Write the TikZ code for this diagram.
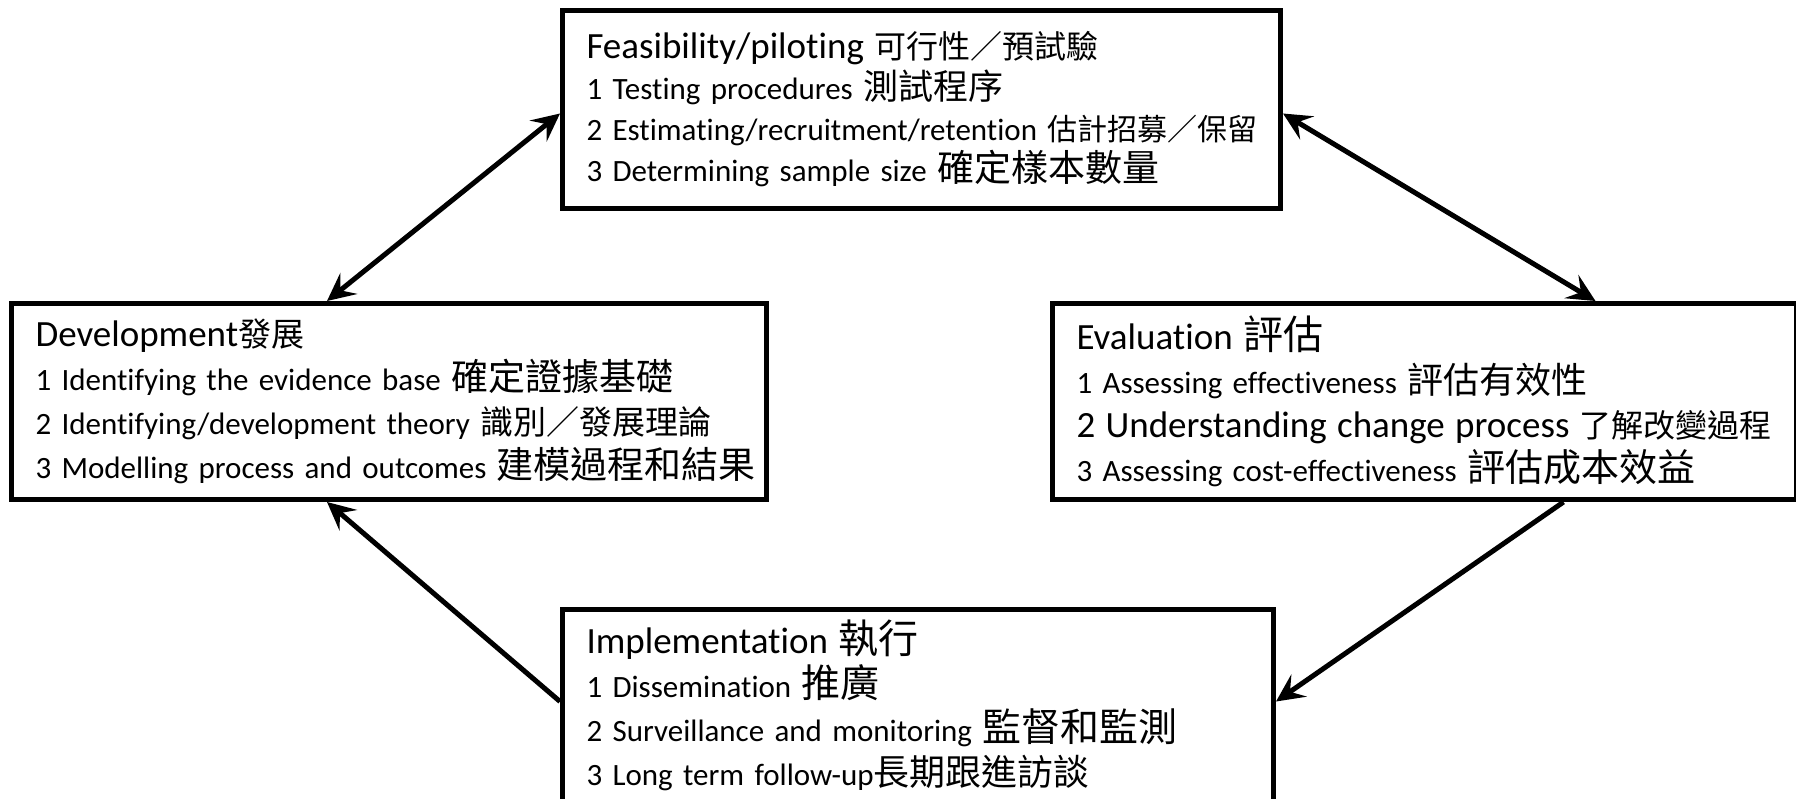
\documentclass[tikz,border=0pt]{standalone}
\usepackage{fontspec}
\setmainfont{Carlito}[Ligatures=NoCommon]
\newfontfamily\zhfont{Noto Sans CJK TC}
\usetikzlibrary{arrows.meta}
% Chinese text at a given size, stage headings, unbroken lines
\newcommand{\zh}[2][34]{{\zhfont\fontsize{#1}{44}\selectfont #2}}
\newcommand{\stagehead}[1]{\mbox{\fontsize{37}{44}\selectfont #1}}
\newcommand{\stageline}[1]{\mbox{#1}}
\hbadness=10000 \hfuzz=200pt
\tikzset{
  stage/.style={draw, line width=5pt, anchor=north west, align=left,
    inner xsep=24pt, inner ysep=0pt, font=\fontsize{31}{44}\selectfont},
  flow/.style={line width=5pt, -{Stealth[length=28pt,width=27pt,inset=11pt]}},
  twoway/.style={line width=5pt,
    {Stealth[length=28pt,width=27pt,inset=11pt]}-{Stealth[length=28pt,width=27pt,inset=11pt]}}
}

\begin{document}
\begin{tikzpicture}[x=1pt,y=-1pt]
  \useasboundingbox (0,0) rectangle (1796,798);
  % The four stages
  \node[stage, text width=670pt, minimum height=198pt,
        font=\fontsize{31}{41}\selectfont] (feas) at (560,8)
    {\stagehead{Feasibility/piloting \zh[32]{可行性／預試驗}}\\
     \stageline{1 Testing procedures \zh[35]{測試程序}}\\
     \stageline{2 Estimating/recruitment/retention \zh[30]{估計招募／保留}}\\
     \stageline{3 Determining sample size \zh[37]{確定樣本數量}}};
  \node[stage, text width=707pt, minimum height=196pt] (dev) at (9,301)
    {\stagehead{Development\zh[33]{發展}}\\
     \stageline{1 Identifying the evidence base \zh[37]{確定證據基礎}}\\
     \stageline{2 Identifying/development theory \zh[33]{識別／發展理論}}\\
     \stageline{3 Modelling process and outcomes \zh[37]{建模過程和結果}}};
  \node[stage, text width=696pt, minimum height=196pt] (eval) at (1050,301)
    {\stagehead{Evaluation \zh[40]{評估}}\\
     \stageline{1 Assessing effectiveness \zh[36]{評估有效性}}\\
     \stageline{\fontsize{37}{44}\selectfont 2 Understanding change process \zh[32]{了解改變過程}}\\
     \stageline{3 Assessing cost-effectiveness \zh[38]{評估成本效益}}};
  \node[stage, text width=663pt, minimum height=192pt] (impl) at (560,607)
    {\stagehead{Implementation \zh[40]{執行}}\\
     \stageline{1 Dissemination \zh[39]{推廣}}\\
     \stageline{2 Surveillance and monitoring \zh[39]{監督和監測}}\\
     \stageline{3 Long term follow-up\zh[36]{長期跟進訪談}}};
  % Arrows between stages
  \draw[twoway] ([xshift=-62pt]dev.north) -- ([yshift=-4pt]feas.west);
  \draw[twoway] ([yshift=-4pt]feas.east) -- ([xshift=171pt]eval.north);
  \draw[flow] ([xshift=139pt]eval.south) -- ([yshift=4pt]impl.east);
  \draw[flow] ([yshift=4pt]impl.west) -- ([xshift=-62pt]dev.south);
\end{tikzpicture}
\end{document}
